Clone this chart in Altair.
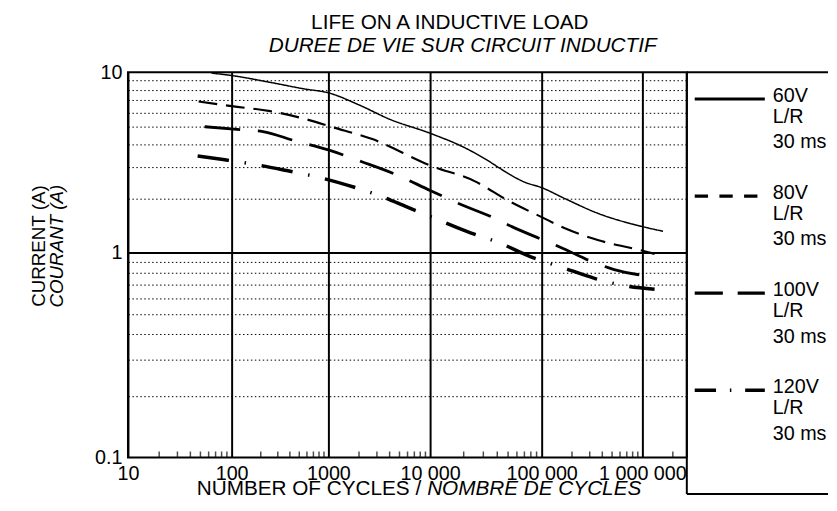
import altair as alt
import pandas as pd

FONT = "Liberation Sans"

# ---------------- data ----------------
series_names = ["60V", "80V", "100V", "120V"]
legend_line2 = ["L/R", "L/R", "L/R", "L/R"]
legend_line3 = ["30 ms", "30 ms", "30 ms", "30 ms"]

cycles_60 = [64, 100, 250, 560, 1000, 2000, 4000, 10000, 20000, 31600, 45000, 70000, 100000, 170000, 360000, 1000000, 1600000]
current_60 = [9.9, 9.6, 8.8, 8.1, 7.7, 6.6, 5.5, 4.6, 3.85, 3.3, 2.87, 2.47, 2.3, 2.0, 1.66, 1.4, 1.32]

cycles_80 = [48, 100, 250, 750, 1000, 2700, 10000, 25000, 50000, 100000, 170000, 360000, 1000000, 1320000]
current_80 = [6.9, 6.5, 6.1, 5.3, 5.05, 4.27, 3.05, 2.5, 1.95, 1.58, 1.37, 1.18, 1.03, 0.99]

cycles_100 = [55, 135, 210, 450, 1000, 2100, 4400, 10000, 18000, 37700, 54000, 100000, 163000, 347000, 525000, 890000, 1270000]
current_100 = [5.0, 4.8, 4.7, 4.18, 3.72, 3.21, 2.75, 2.22, 1.88, 1.56, 1.40, 1.19, 1.06, 0.89, 0.83, 0.785, 0.77]

cycles_120 = [47, 86, 182, 370, 780, 1560, 3100, 5900, 11400, 21000, 43000, 79000, 160000, 340000, 690000, 1320000]
current_120 = [3.44, 3.28, 3.08, 2.86, 2.63, 2.37, 2.09, 1.80, 1.54, 1.32, 1.13, 0.96, 0.85, 0.75, 0.69, 0.665]

x_tick_values = [10, 100, 1000, 10000, 100000, 1000000]
x_tick_labels = ["10", "100", "1000", "10 000", "100 000", "1 000 000"]
x_minor_ticks = [20, 30, 40, 50, 60, 70, 80, 90,
                 200, 300, 400, 500, 600, 700, 800, 900,
                 2000, 3000, 4000, 5000, 6000, 7000, 8000, 9000,
                 20000, 30000, 40000, 50000, 60000, 70000, 80000, 90000,
                 200000, 300000, 400000, 500000, 600000, 700000, 800000, 900000,
                 2000000]
y_grid_values = [0.1, 0.2, 0.3, 0.4, 0.5, 0.6, 0.7, 0.8, 0.9, 1, 2, 3, 4, 5, 6, 7, 8, 9, 10]
y_label_values = [0.1, 1, 10]
y_labels = ["0.1", "1", "10"]

title_line1 = "LIFE ON A INDUCTIVE LOAD"
title_line2 = "DUREE DE VIE SUR CIRCUIT INDUCTIF"
y_title1 = "CURRENT (A)"
y_title2 = "COURANT (A)"
x_title1 = "NUMBER OF CYCLES /"
x_title2 = "NOMBRE DE CYCLES"

# ---------------- layout / styles ----------------
W, H = 566, 390
LEG_W, LEG_H = 143, 427
# the printed chart's decades are not quite evenly spaced: piecewise log scales
x_domain = [10, 100, 1000, 10000, 100000, 1000000, 2750000]
x_range = [0, 105, 203, 306, 419, 521, W]
y_domain = [0.1, 1, 10]
y_range = [H, 183, 0]

dash_main = [[1, 0], [19, 9], [36, 18], [32, 16, 1.5, 16]]
width_main = [1.5, 3.5, 4, 4]
dash_leg = [[1, 0], [13.5, 11.5], [28.5, 15], [21.6, 14, 1.5, 14]]
width_leg = [3, 3.5, 4, 4]

rows = []
for name, xs, ys in zip(series_names,
                        [cycles_60, cycles_80, cycles_100, cycles_120],
                        [current_60, current_80, current_100, current_120]):
    for xv, yv in zip(xs, ys):
        rows.append({"series": name, "cycles": xv, "current": yv})
df = pd.DataFrame(rows)


def expr_map(values, labels):
    parts = "".join(f"datum.value == {v} ? '{l}' : " for v, l in zip(values, labels))
    return parts + "''"


x_scale = alt.Scale(type="log", domain=x_domain, range=x_range, nice=False)
y_scale = alt.Scale(type="log", domain=y_domain, range=y_range, nice=False)

x_axis = alt.Axis(values=x_tick_values, labelExpr=expr_map(x_tick_values, x_tick_labels),
                  title=None, grid=True, gridColor="black", gridWidth=2, gridOpacity=1,
                  domain=False, ticks=False, tickSize=0, labelPadding=6, labelFlush=False,
                  labelFont=FONT, labelFontSize=20, labelColor="black", labelOverlap=False)
y_axis = alt.Axis(values=y_grid_values, labelExpr=expr_map(y_label_values, y_labels),
                  title=None, grid=True, gridColor="black", gridWidth=1, gridDash=[1.5, 2.5],
                  gridOpacity={"condition": {"test": "datum.value == 0.1 || datum.value == 1 || datum.value == 10",
                                             "value": 0}, "value": 1},
                  domain=False, ticks=False, tickSize=0, labelPadding=6,
                  labelFont=FONT, labelFontSize=20, labelColor="black", labelOverlap=False)

lines = alt.Chart(df).mark_line(color="black", interpolate="monotone").encode(
    x=alt.X("cycles:Q", scale=x_scale, axis=x_axis),
    y=alt.Y("current:Q", scale=y_scale, axis=y_axis),
    strokeDash=alt.StrokeDash("series:N", scale=alt.Scale(domain=series_names, range=dash_main), legend=None),
    strokeWidth=alt.StrokeWidth("series:N", scale=alt.Scale(domain=series_names, range=width_main), legend=None),
)

one_line = alt.Chart(pd.DataFrame({"v": [1]})).mark_rule(color="black", strokeWidth=2).encode(
    y=alt.Y("v:Q", scale=y_scale, axis=y_axis)
)

ticks = alt.Chart(pd.DataFrame({"v": x_minor_ticks, "b": [0.1] * len(x_minor_ticks)})).mark_tick(
    orient="vertical", size=6, thickness=1.5, color="black", yOffset=-3
).encode(
    x=alt.X("v:Q", scale=x_scale, axis=x_axis),
    y=alt.Y("b:Q", scale=y_scale, axis=y_axis),
)


def text_layer(txt, x, y, **kw):
    return alt.Chart(pd.DataFrame({"t": [txt]})).mark_text(font=FONT, color="black", **kw).encode(
        text="t:N", x=alt.value(x), y=alt.value(y)
    )


title1 = text_layer(title_line1, 326, -50, fontSize=21, align="center", baseline="middle")
title2 = text_layer(title_line2, 339, -27, fontSize=21, align="center", baseline="middle", fontStyle="italic")
ytitle1 = text_layer(y_title1, -90, 176, angle=270, fontSize=19, align="center", baseline="middle")
ytitle2 = text_layer(y_title2, -72, 176, angle=270, fontSize=19, align="center", baseline="middle",
                     fontStyle="italic")
xtitle1 = text_layer(x_title1, 297, 422, fontSize=21, align="right", baseline="middle")
xtitle2 = text_layer(x_title2, 303, 422, fontSize=21, align="left", baseline="middle", fontStyle="italic")

main = alt.layer(lines, one_line, ticks, title1, title2, ytitle1, ytitle2, xtitle1, xtitle2).properties(
    width=W, height=H, view=alt.ViewBackground(stroke="black", strokeWidth=2)
)

# ---------------- legend panel ----------------
leg_df = pd.DataFrame({"series": series_names, "l2": legend_line2, "l3": legend_line3})
leg_y = alt.Y("series:N", scale=alt.Scale(type="point", domain=series_names, range=[27, 322], padding=0),
              axis=None)

box = pd.DataFrame({"a": [0]})
box_left = alt.Chart(box).mark_rule(color="black", strokeWidth=2).encode(
    x=alt.value(0), y=alt.value(0), y2=alt.value(LEG_H))
box_top = alt.Chart(box).mark_rule(color="black", strokeWidth=2).encode(
    x=alt.value(0), x2=alt.value(LEG_W), y=alt.value(0))
box_bottom = alt.Chart(box).mark_rule(color="black", strokeWidth=2).encode(
    x=alt.value(0), x2=alt.value(LEG_W), y=alt.value(LEG_H))

leg_lines = alt.Chart(leg_df).mark_rule(color="black").encode(
    x=alt.value(8), x2=alt.value(79), y=leg_y,
    strokeDash=alt.StrokeDash("series:N", scale=alt.Scale(domain=series_names, range=dash_leg), legend=None),
    strokeWidth=alt.StrokeWidth("series:N", scale=alt.Scale(domain=series_names, range=width_leg), legend=None),
)


def leg_text(field, dy):
    return alt.Chart(leg_df).mark_text(font=FONT, fontSize=20, color="black", align="left",
                                       baseline="middle", dy=dy).encode(
        x=alt.value(87), y=leg_y, text=f"{field}:N")


legend = alt.layer(box_left, box_top, box_bottom, leg_lines,
                   leg_text("series", -3), leg_text("l2", 18), leg_text("l3", 44)).properties(
    width=LEG_W, height=LEG_H
)

chart = alt.hconcat(main, legend, spacing=0, bounds="flush").resolve_scale(
    x="independent", y="independent", strokeDash="independent", strokeWidth="independent"
).properties(
    padding={"left": 21.5, "top": 0, "right": 0, "bottom": -3},
).configure_view(strokeWidth=0)

chart.save("out.html", embed_options={"renderer": "svg", "actions": False})
